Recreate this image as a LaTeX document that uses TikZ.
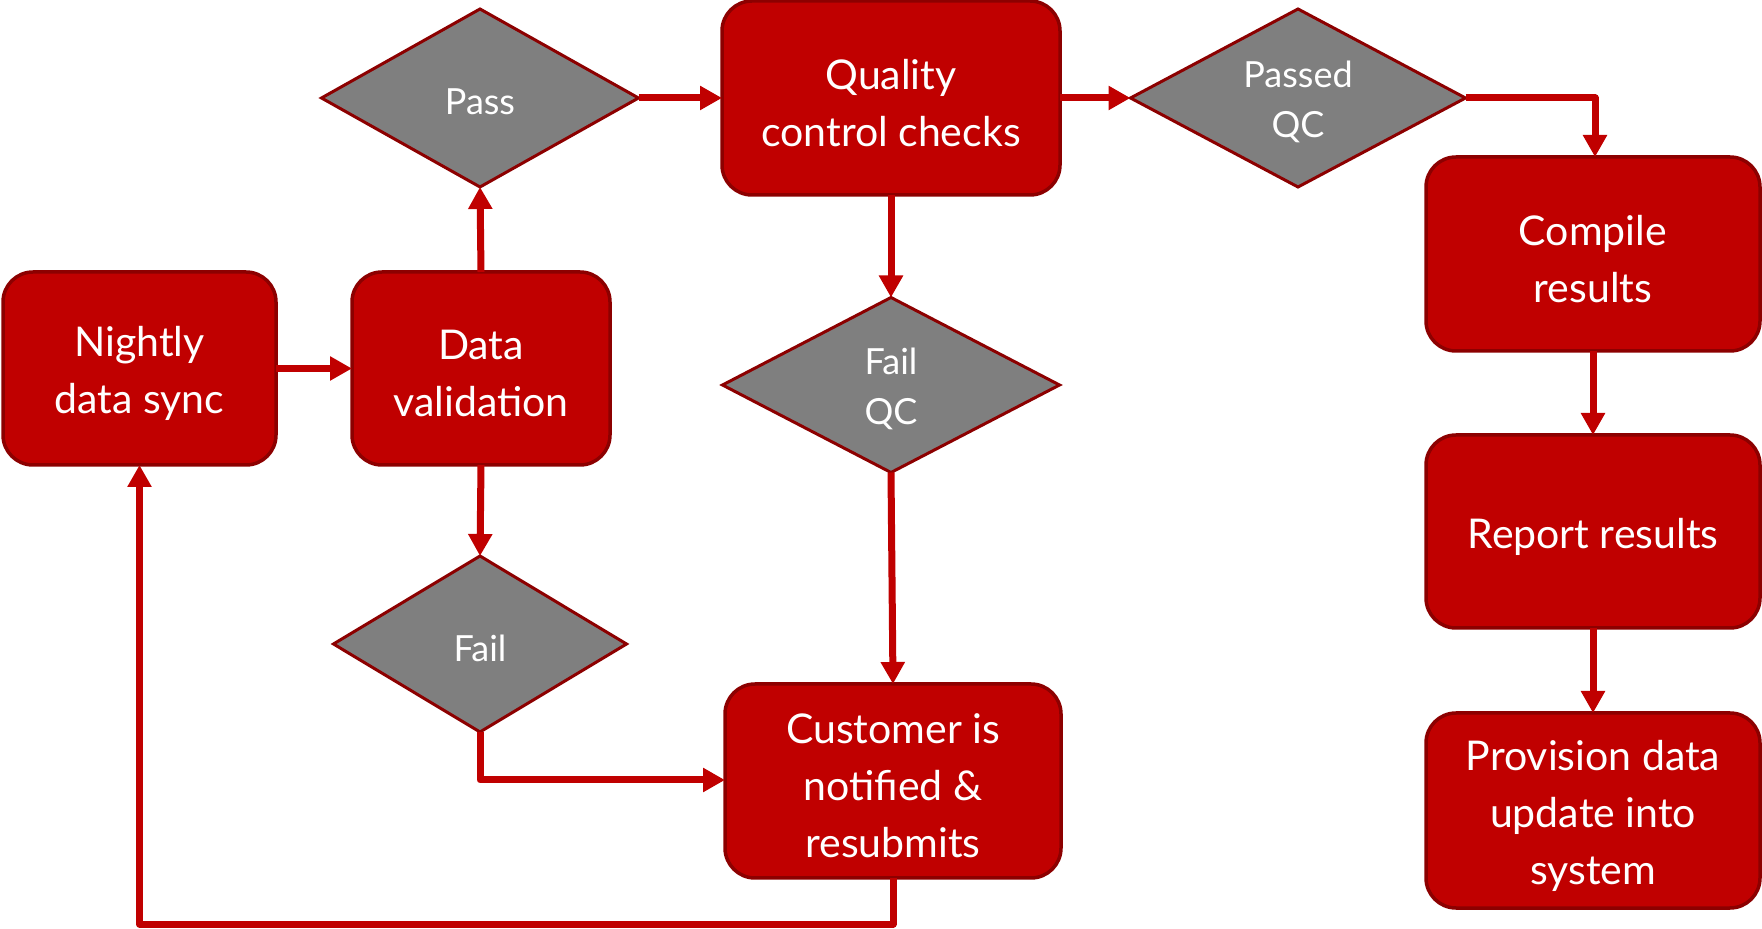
\documentclass[tikz,border=0pt]{standalone}
\usepackage{fontspec}
\setmainfont{Lato}
\usetikzlibrary{shapes.geometric,arrows.meta}
\definecolor{boxred}{RGB}{192,0,0}
\definecolor{edgered}{RGB}{140,0,0}
\definecolor{dgray}{RGB}{127,127,127}
\tikzset{
  px/.style={x=0.5pt,y=-0.5pt},
  boxtext/.style={text=white,align=center,inner sep=0pt,yshift=-2.5pt,
    font=\fontsize{20.5}{28.5}\selectfont},
  dectext/.style={text=white,align=center,inner sep=0pt,yshift=-2pt,
    font=\fontsize{18}{25}\selectfont},
  procbox/.style={draw=edgered,fill=boxred,line width=1.75pt,rounded corners=15pt,
    inner sep=0pt,outer sep=0pt,label={[boxtext]center:#1}},
  decide/.style={draw=edgered,fill=dgray,line width=1.5pt,diamond,
    inner sep=0pt,outer sep=0pt,label={[dectext]center:#1}},
  flow/.style={draw=boxred,line width=3.5pt,line join=round,
    -{Triangle[length=11pt,width=11.5pt]}},
}
\begin{document}
\begin{tikzpicture}[px]
\useasboundingbox (0,0) rectangle (1762,929);
% process boxes
\node[procbox={Nightly\\data sync},minimum width=136.5pt,minimum height=96.5pt] (sync) at (139.5,368.5) {};
\node[procbox={Data\\validation},minimum width=129pt,minimum height=96.5pt] (valid) at (481,368.5) {};
\node[procbox={Quality\\control checks},minimum width=169pt,minimum height=97pt] (qc) at (891,98) {};
\node[procbox={Compile\\results},minimum width=167pt,minimum height=97pt] (compile) at (1593,254) {};
\node[procbox={Report results},minimum width=167pt,minimum height=96.5pt] (report) at (1593,531.5) {};
\node[procbox={Provision data\\update into\\system},minimum width=167pt,minimum height=97.5pt] (prov) at (1593,810.5) {};
\node[procbox={Customer is\\notified \&\\resubmits},minimum width=168pt,minimum height=97pt] (cust) at (893,781) {};
% decisions
\node[decide={Pass},minimum width=158.5pt,minimum height=89pt] (pass) at (480,98) {};
\node[decide={Passed\\QC},minimum width=167.5pt,minimum height=89pt] (passqc) at (1298,98) {};
\node[decide={Fail\\QC},minimum width=168.5pt,minimum height=87.5pt] (failqc) at (891,385) {};
\node[decide={Fail},minimum width=146.5pt,minimum height=88pt] (fail) at (480,644) {};
% corner coordinates
\coordinate (c1) at (1595,98);
\coordinate (c2) at (480,780);
\coordinate (c3) at (893,924);
\coordinate (c4) at (139.5,924);
% connectors
\draw[flow] (sync.east) -- (valid.west);
\draw[flow] (valid.north) -- (pass.south);
\draw[flow] (pass.east) -- (qc.west);
\draw[flow] (qc.east) -- (passqc.west);
\draw[flow] (passqc.east) -- (c1) -- (compile.north -| c1);
\draw[flow] (compile.south) -- (report.north);
\draw[flow] (report.south) -- (prov.north);
\draw[flow] (qc.south) -- (failqc.north);
\draw[flow] (failqc.south) -- (cust.north);
\draw[flow] (valid.south) -- (fail.north);
\draw[flow] (fail.south) -- (c2) -- (cust.west |- c2);
\draw[flow] (cust.south) -- (c3) -- (c4) -- (sync.south);
\end{tikzpicture}
\end{document}
